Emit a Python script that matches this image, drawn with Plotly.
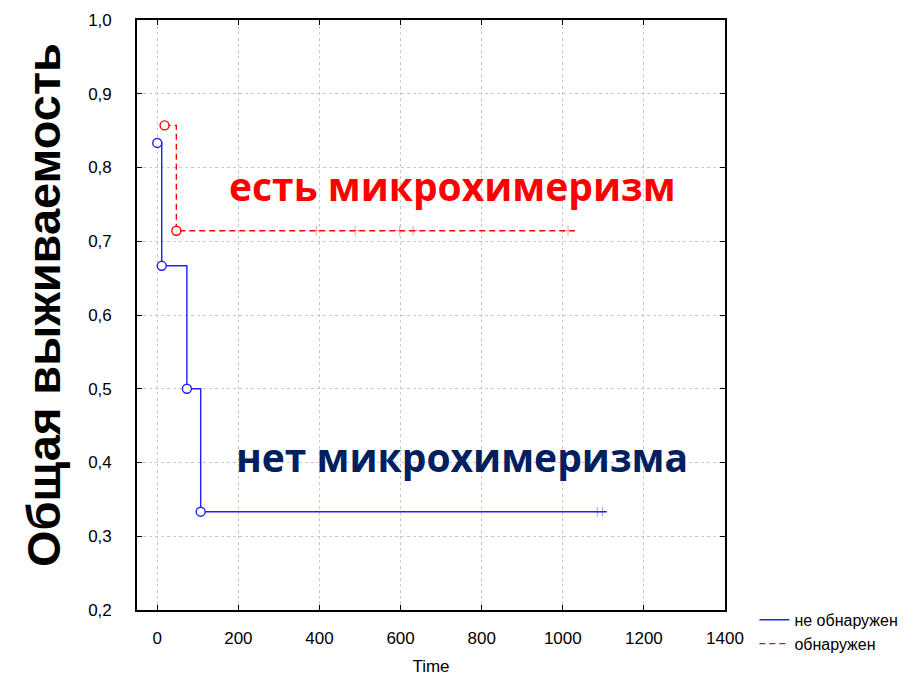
import plotly.graph_objects as go

# Kaplan-Meier estimates: event times (days) and survival after each event
no_chim_t = [0, 11, 73, 107]
no_chim_s = [0.8333, 0.6667, 0.5, 0.3333]
no_chim_end = 1108
no_chim_censored = [1085, 1098]

chim_t = [18, 47]
chim_s = [0.8571, 0.7143]
chim_end = 1030
chim_censored = [392, 488, 598, 631, 1013]

x_ticks = [0, 200, 400, 600, 800, 1000, 1200, 1400]
y_ticks = [0.2, 0.3, 0.4, 0.5, 0.6, 0.7, 0.8, 0.9, 1.0]

BLUE = "#1f1fff"
RED = "#ff0000"

fig = go.Figure()


def add_group(times, surv, end, censored, color, dash, name):
    xs = times + [end]
    ys = surv + [surv[-1]]
    fig.add_trace(go.Scatter(
        x=xs, y=ys, mode="lines", line_shape="hv",
        line=dict(color=color, width=1.4, dash=dash), name=name,
    ))
    fig.add_trace(go.Scatter(
        x=times, y=surv, mode="markers", showlegend=False, hoverinfo="skip",
        marker=dict(symbol="circle", size=9, color="white",
                    line=dict(color=color, width=1.4)),
    ))
    fig.add_trace(go.Scatter(
        x=censored, y=[surv[-1]] * len(censored), mode="markers",
        showlegend=False, hoverinfo="skip", opacity=0.4,
        marker=dict(symbol="cross-thin", size=7,
                    line=dict(color=color, width=1)),
    ))


add_group(no_chim_t, no_chim_s, no_chim_end, no_chim_censored, BLUE, "solid", "не обнаружен")
add_group(chim_t, chim_s, chim_end, chim_censored, RED, "6px,4px", "обнаружен")

fig.add_annotation(x=728, y=0.775, xref="x", yref="y", text="<b>есть микрохимеризм</b>",
                   showarrow=False, font=dict(family="Open Sans", size=39, color=RED))
fig.add_annotation(x=752, y=0.4075, xref="x", yref="y", text="<b>нет микрохимеризма</b>",
                   showarrow=False, font=dict(family="Open Sans", size=39, color="#002060"))

axis_common = dict(
    showline=True, linecolor="black", linewidth=1.6, mirror="ticks",
    ticks="inside", ticklen=5, tickwidth=1.2, tickcolor="black",
    showgrid=True, gridcolor="#c8c8c8", griddash="dot", gridwidth=1,
    zeroline=False, automargin=False,
    tickfont=dict(family="Liberation Sans", size=17, color="black"),
)

fig.update_layout(
    width=920, height=676,
    margin=dict(l=137, r=195, t=20, b=66),
    paper_bgcolor="white", plot_bgcolor="white",
    separators=", ",
    xaxis=dict(range=[-50, 1400], tickvals=x_ticks, ticklabelstandoff=12,
               title=dict(text="Time", font=dict(family="Liberation Sans", size=17, color="black"),
                          standoff=20),
               **axis_common),
    yaxis=dict(range=[0.2, 1.0], tickvals=y_ticks, tickformat=".1f", ticklabelstandoff=20,
               **axis_common),
    legend=dict(x=1.05, y=0.012, xanchor="left", yanchor="top",
                font=dict(family="Liberation Sans", size=16, color="black"),
                bgcolor="rgba(0,0,0,0)", tracegroupgap=0, itemwidth=30),
    showlegend=True,
)

fig.add_annotation(x=-0.158, y=0.517, xref="paper", yref="paper", xanchor="center",
                   yanchor="middle", textangle=-90,
                   text="<b>Общая выживаемость</b>", showarrow=False,
                   font=dict(family="Liberation Sans", size=47, color="black"))

fig.write_html("out.html")
